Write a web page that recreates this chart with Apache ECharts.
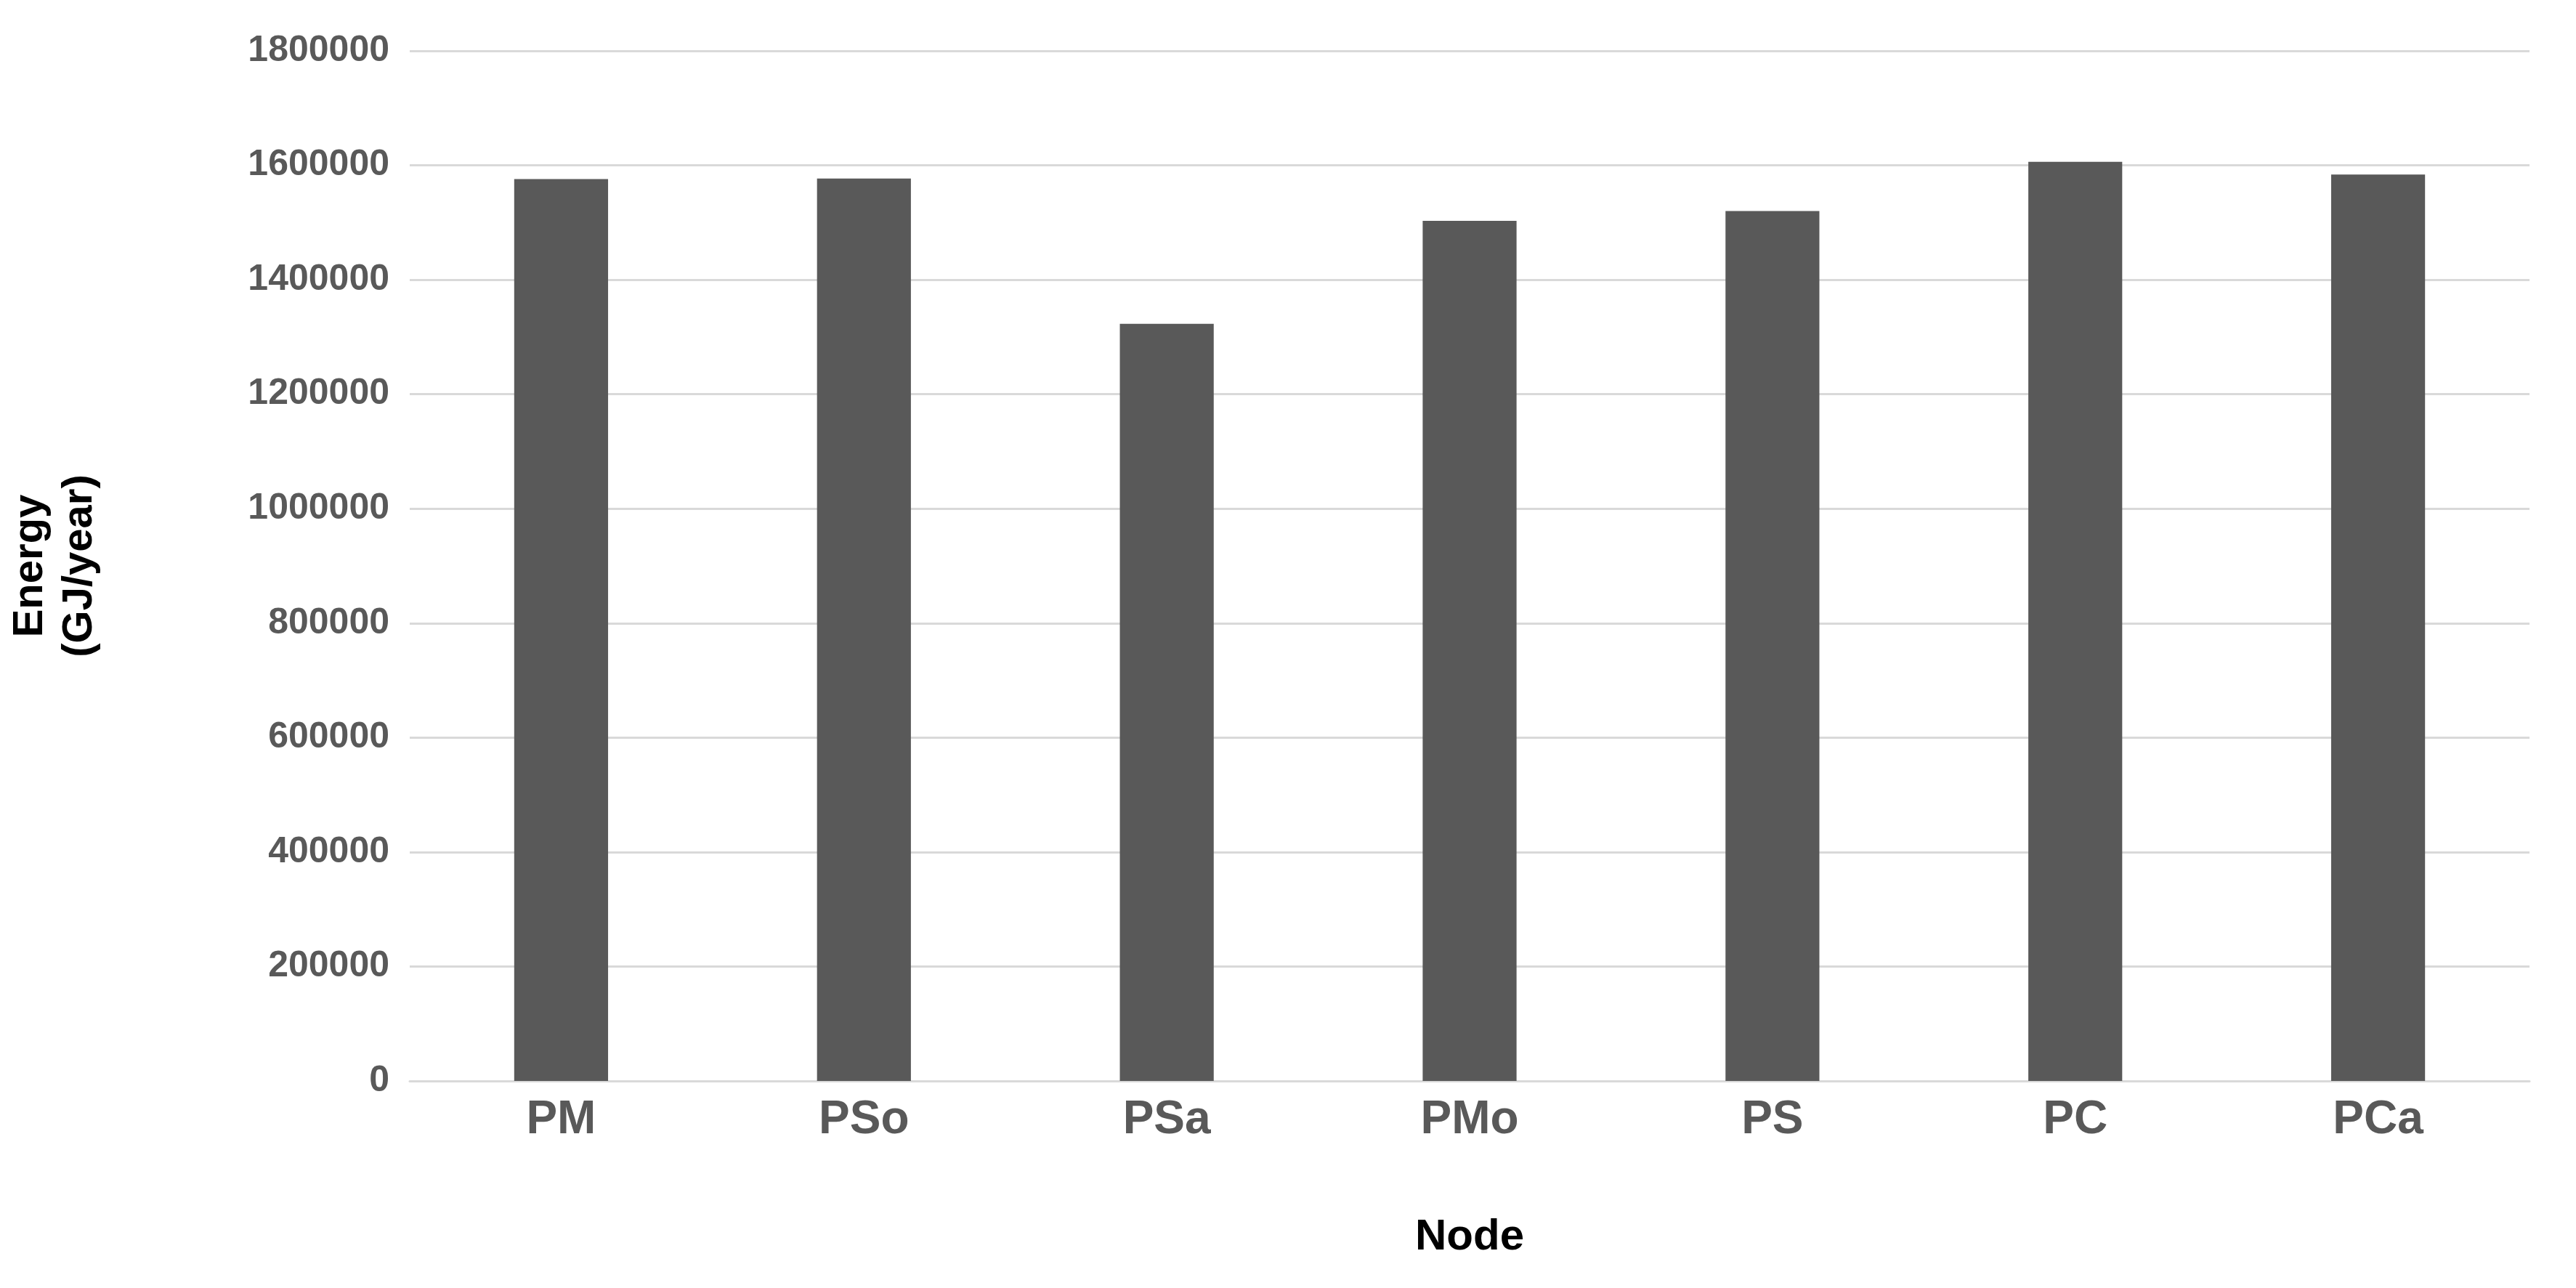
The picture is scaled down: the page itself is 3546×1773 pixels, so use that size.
<!DOCTYPE html>
<html>
<head>
<meta charset="utf-8">
<style>
    html,body,#chart{ height:100%; width:100%; margin:0; padding:0; background:#fff; }
</style>
</head>
<body>
<div id="chart"></div>
<script src="https://cdn.jsdelivr.net/npm/echarts@6/dist/echarts.min.js"></script>
<script>
    const nodes = ['PM', 'PSo', 'PSa', 'PMo', 'PS', 'PC', 'PCa'];
    const energy = [1576000, 1577000, 1323000, 1503000, 1520000, 1606000, 1584000];

    let chart = echarts.init(document.getElementById('chart'));
    chart.setOption({
        animation: false,
        grid: { left: 540, right: 64, top: 70, bottom: 285 },
        xAxis: {
            type: 'category',
            data: nodes,
            name: 'Node',
            nameLocation: 'middle',
            nameGap: 185,
            nameTextStyle: { fontFamily: 'Liberation Sans', fontWeight: 'bold', fontSize: 60, color: '#000' },
            axisLine: { lineStyle: { color: '#d9d9d9', width: 3 } },
            axisTick: { show: false },
            axisLabel: { fontFamily: 'Liberation Sans', fontWeight: 'bold', fontSize: 64, color: '#595959', margin: 22 }
        },
        yAxis: {
            type: 'value',
            min: 0, max: 1800000, interval: 200000,
            name: 'Energy\n(GJ/year)',
            nameLocation: 'middle',
            nameGap: 420,
            nameTextStyle: { fontFamily: 'Liberation Sans', fontWeight: 'bold', fontSize: 58, color: '#000', lineHeight: 68 },
            axisLine: { show: false },
            axisTick: { show: false },
            splitLine: { lineStyle: { color: '#d9d9d9', width: 3 } },
            axisLabel: {
                fontFamily: 'Liberation Sans', fontWeight: 'bold', fontSize: 50, color: '#595959', margin: 28,
                formatter: v => String(v)
            }
        },
        series: [{
            type: 'bar',
            data: energy,
            barWidth: '31%',
            itemStyle: { color: '#595959' }
        }]
    });
</script>
</body>
</html>
